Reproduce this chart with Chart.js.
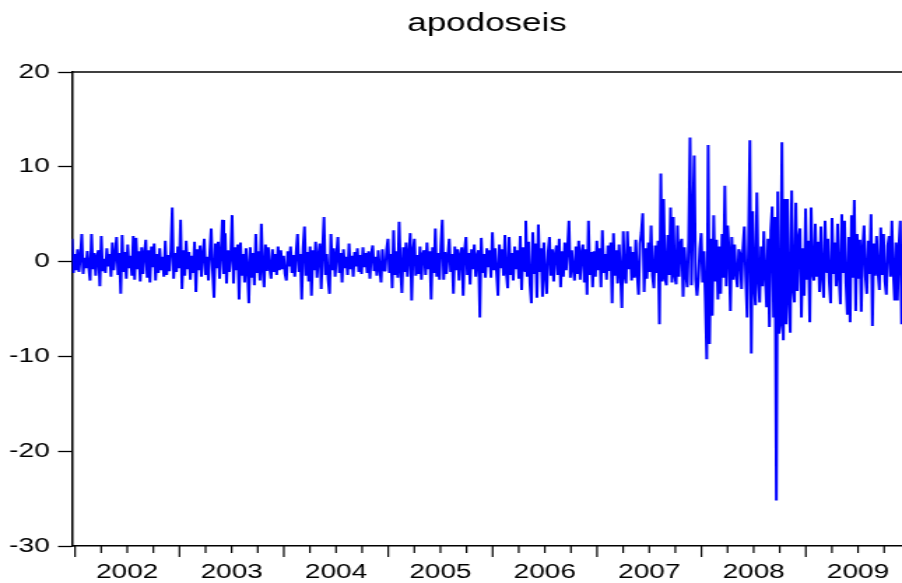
<!DOCTYPE html>
<html>
<head>
<meta charset="utf-8">
<title>apodoseis</title>
<script src="https://cdn.jsdelivr.net/npm/chart.js@4.4.1/dist/chart.umd.min.js"></script>
<style>
  html, body { margin: 0; padding: 0; background: #fff; overflow: hidden; }
  /* the chart is drawn narrow and then widened, like the original export */
  #wrap { width: 645px; height: 583px; transform: scaleX(1.3984); transform-origin: 0 0; }
</style>
</head>
<body>
<div id="wrap"><canvas id="chart" width="645" height="583"></canvas></div>
<script>
// Returns (%), one array per year
const r2002 = [2.4, -1.2, 0.8, -0.9, 1.3, -1.1, 0.5, 2.9, -1.3, 0.4, -0.7, 1.1, -0.6, -2.0, 2.9, -0.8, 0.9, -1.5, 0.6, 1.2,
  -2.6, 2.7, -1.0, 0.3, -1.2, 1.4, -0.5, 0.8, -1.6, 2.0, -0.9, 0.7, 2.6, -1.4, 0.9, -3.4, 2.8, -1.1, 1.0, -1.8,
  1.8, -0.7, 0.6, -1.5, 2.7, -1.9, 2.5, -0.8, 1.1, -2.1, 1.5, -1.3, 0.9, 2.3, -1.7, 1.2, -2.2, 1.6, -0.6, 1.9,
  -2.0, 0.8, -1.2, 1.4, -0.9, 0.5, -1.6, 2.2, -1.4, 0.7, -1.0, 1.2, 5.7, -1.8, 0.9];
const r2003 = [-1.1, 1.6, -0.7, 4.4, -2.9, 1.2, -1.5, 2.2, -0.8, 1.0, -1.9, 0.6, -1.2, 2.1, -3.2, 1.3, -0.9, 1.7, -1.6, 0.8,
  2.4, -1.4, 0.5, -2.0, 1.1, 3.5, -1.0, -3.8, 1.9, -0.7, 2.1, -1.8, 0.9, 4.4, -1.3, 3.0, -2.3, 1.2, -1.1, 0.7,
  4.9, -2.3, 1.5, -0.9, 1.8, -4.0, 2.0, -1.5, 0.8, -2.2, 1.4, -0.6, -4.4, 1.5, -1.7, 0.9, -2.5, 2.9, -1.2, 1.1,
  -2.0, 4.0, -0.8, -2.7, 1.8, -1.0, 1.5, -0.7, -1.8, 1.3, -1.1, 0.8, -1.4, 1.6, -0.9];
const r2004 = [1.2, -0.8, 0.6, -1.3, -2.0, 1.1, -0.5, 1.6, -1.2, 0.7, -1.6, 0.9, 2.9, -1.1, 0.8, -4.0, 1.4, 3.7, -1.5, 1.0,
  -2.1, 1.6, -3.6, 1.2, -0.9, 2.1, -1.7, 0.6, 1.9, -2.9, 1.3, 4.7, -1.4, 0.8, -1.9, -3.4, 2.9, -0.9, 1.4, -1.6,
  0.7, 2.6, -1.2, 0.9, -2.2, 1.3, -0.7, 0.5, -1.4, 1.9, -0.8, 0.6, -1.6, 1.0, -0.5, 1.4, -1.1, 0.7, -1.3, 1.5,
  -0.6, 0.9, -1.2, 1.1, -1.8, 0.8, 1.7, -1.0, 0.5, -1.5, 1.2, -0.7, -2.2, 1.3, -0.9];
const r2005 = [-1.0, 1.3, 2.4, -1.2, 0.8, -2.8, 3.3, -1.4, 1.1, -1.7, 4.2, -0.9, -3.3, 1.5, -1.1, 2.0, -1.6, 0.9, 3.0, -4.1,
  1.2, 2.4, -1.5, 0.7, -1.3, 1.6, -1.9, 0.8, 1.2, -1.4, 2.0, -0.8, 1.1, -4.0, 1.5, -1.2, 3.5, -1.6, 0.9, -1.9,
  1.7, 4.4, -1.9, 1.0, -1.3, 0.6, 2.4, -1.1, 0.8, -3.4, 1.6, -0.9, 1.3, -2.0, 0.7, 1.5, -3.6, 1.1, 2.6, -1.4,
  0.9, -2.4, 1.3, -0.8, 1.8, -1.6, 0.6, 1.2, -5.9, 2.5, -1.2, 0.8, -1.7, 1.4, -0.6];
const r2006 = [1.2, -1.7, 3.1, -0.9, 1.4, -1.1, -3.6, 1.8, -0.7, 1.3, -1.5, 2.8, -1.2, -2.8, 2.6, -1.4, 0.9, -2.0, 1.6, -0.8,
  1.2, -1.8, 2.7, -3.0, 1.5, -1.0, 4.3, -1.6, 2.1, -2.4, -4.4, 3.1, -1.3, 1.9, -3.8, 3.9, -1.1, 1.4, -3.7, 2.0,
  -1.2, -3.4, 1.0, 2.6, -1.5, 1.3, -2.1, 0.8, 1.7, -1.4, 2.4, -2.7, 1.1, -1.6, 2.0, -0.9, 1.5, 4.3, -1.7, 1.2,
  -0.8, -2.0, 1.6, -1.3, 2.2, -1.9, 0.9, 1.8, -2.2, 1.3, -3.5, 4.3, -1.4, 1.0, -2.7];
const r2007 = [1.1, -1.6, 2.2, -0.9, 1.4, -2.7, 3.3, -1.2, 0.8, -1.9, 1.7, -1.0, 2.0, -4.4, 3.0, -1.5, 1.2, -2.3, 1.8, -1.1,
  -4.9, 3.2, -1.4, -2.3, 3.2, -0.8, 1.6, -2.0, 1.0, -1.7, 2.3, -1.3, -3.5, 1.9, 3.1, 5.1, -3.2, 1.4, -1.8, 2.0,
  -1.1, 3.8, -1.5, -2.8, 1.7, -1.2, 2.2, -6.6, 9.3, -2.1, 6.6, -1.8, -2.5, 2.8, -1.4, 5.7, -2.2, 4.7, -1.5, -2.4,
  3.8, -1.6, 1.9, 2.4, -3.7, 1.5, -1.3, -2.7, 2.2, 13.1, -2.5, 4.3, 11.2, -1.9, -3.6];
const r2008 = [-1.8, 1.4, 3.0, -2.2, 1.1, -4.1, -10.3, 12.3, -8.7, 2.4, -5.7, 4.9, -2.1, 2.3, -4.0, 1.6, -3.4, 2.9, -1.7, 8.0,
  -2.6, 3.8, 1.2, -5.2, 2.6, -1.9, 1.8, -1.3, -2.7, 1.3, 0.8, -2.9, 1.5, 3.7, -1.6, -5.9, 2.1, 12.8, -9.7, 5.3,
  -2.4, -4.6, 7.3, -1.8, -4.3, 1.6, -2.6, 3.2, -1.5, -4.8, 2.4, -6.9, 3.3, 5.8, -5.9, 4.7, -25.2, 7.4, -7.6, -6.6,
  12.6, -8.3, 6.6, -6.6, 6.6, -3.9, -7.5, 7.5, -2.8, -4.3, 6.2, -3.1, 2.4, 3.5, -5.9];
const r2009 = [1.4, -3.6, 5.6, -1.9, 2.2, -6.4, 5.7, -1.2, -2.0, 4.0, -1.6, 2.1, -3.2, 3.7, -1.4, -3.8, 4.3, -1.1, 2.4, -2.2,
  -4.4, 4.6, -1.3, 2.0, -2.6, 4.0, -1.5, -4.5, 5.0, -1.2, 4.3, -2.3, -5.6, 2.6, -6.4, 4.9, -1.7, 6.5, -5.2, 2.9,
  -1.8, 2.3, -5.3, 1.4, 3.8, -1.6, -3.4, 2.2, -1.3, 5.0, -6.8, 1.9, -1.5, 2.7, -1.1, -3.0, 3.6, -1.4, 2.9, -2.1,
  -3.5, 1.7, 2.7, -1.6, 4.3, -1.2, -4.1, 2.0, -4.1, 1.5, 4.3, -6.6];

const years = [2002, 2003, 2004, 2005, 2006, 2007, 2008, 2009];
const yTicks = [-30, -20, -10, 0, 10, 20];

const START = 2001.971;   // first observation (fraction of year)
const PER_YEAR = 75;      // observations per year in the arrays above
const X_MAX = 2009.921;

const FONT = 'Liberation Sans, Arial, Helvetica, sans-serif';

const returns = [].concat(r2002, r2003, r2004, r2005, r2006, r2007, r2008, r2009);
const points = returns.map((v, i) => ({ x: START + i / PER_YEAR, y: v }));

// top edge of the frame and the quarter / year ticks under the x axis
const frame = {
    id: 'frame',
    afterDraw(chart) {
        const ctx = chart.ctx;
        const a = chart.chartArea;
        const xs = chart.scales.x;
        ctx.save();
        ctx.strokeStyle = '#000';
        ctx.lineWidth = 1.5;
        ctx.beginPath();
        ctx.moveTo(a.left, a.top);
        ctx.lineTo(a.right, a.top);
        ctx.stroke();

        ctx.lineWidth = 1.2;
        ctx.beginPath();
        years.forEach(yr => {
            [0, 0.25, 0.5, 0.75].forEach(q => {
                const px = xs.getPixelForValue(yr + q);
                if (px < a.left || px > a.right) return;
                const len = q === 0 ? 11 : 7;
                ctx.moveTo(px, a.bottom);
                ctx.lineTo(px, a.bottom + len);
            });
        });
        ctx.stroke();
        ctx.restore();
    }
};

new Chart(document.getElementById('chart'), {
    type: 'line',
    data: {
        datasets: [{
            label: 'apodoseis',
            data: points,
            borderColor: '#0000ff',
            borderWidth: 2,
            borderJoinStyle: 'bevel',
            pointRadius: 0,
            tension: 0,
            fill: false
        }]
    },
    options: {
        responsive: false,
        animation: false,
        devicePixelRatio: 1,
        layout: { padding: 0 },
        plugins: {
            legend: { display: false },
            tooltip: { enabled: false },
            title: {
                display: true,
                text: 'apodoseis',
                fullSize: false,
                color: '#000',
                font: { family: FONT, size: 25, weight: 'normal' },
                padding: { top: 9, bottom: 33 }
            }
        },
        scales: {
            x: {
                type: 'linear',
                min: START,
                max: X_MAX,
                afterFit: (s) => {
                    s.height = 37;
                    // year labels sit well inside the plot, no side padding needed
                    s.paddingLeft = 0;
                    s.paddingRight = 0;
                },
                afterBuildTicks: (s) => { s.ticks = years.map(y => ({ value: y + 0.5 })); },
                ticks: {
                    callback: (v) => String(Math.floor(v)),
                    autoSkip: false,
                    maxRotation: 0,
                    padding: 14,
                    color: '#000',
                    font: { family: FONT, size: 20 }
                },
                grid: { drawOnChartArea: false, drawTicks: false },
                border: { color: '#000', width: 1.5 }
            },
            y: {
                min: -30,
                max: 20,
                afterFit: (s) => { s.width = 51.5; },
                afterBuildTicks: (s) => { s.ticks = yTicks.map(v => ({ value: v })); },
                ticks: {
                    color: '#000',
                    padding: 6,
                    font: { family: FONT, size: 20 }
                },
                grid: { drawOnChartArea: false, tickLength: 10, tickColor: '#000', tickWidth: 1.3 },
                border: { color: '#000', width: 1.5 }
            }
        }
    },
    plugins: [frame]
});
</script>
</body>
</html>
